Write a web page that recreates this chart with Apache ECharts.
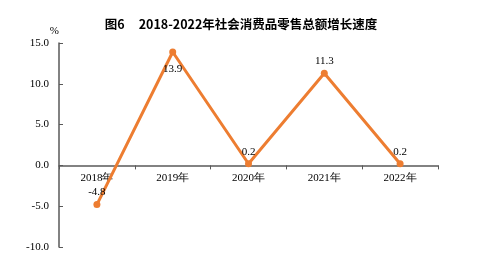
<!DOCTYPE html>
<html><head><meta charset="utf-8">
<script src="https://cdn.jsdelivr.net/npm/echarts@6/dist/echarts.min.js"></script>
<style>html,body{margin:0;padding:0;background:#fff}#c{width:482px;height:276px}</style>
</head><body><div id="c"></div>
<script>
const categories = ['2018年','2019年','2020年','2021年','2022年'];
const growth = [-4.8, 13.9, 0.2, 11.3, 0.2];
const labelPositions = ['top','bottom','top','top','top'];
const yMin = -10, yMax = 15;
const gridTop = 43, gridBottom = 29, H = 276;
const plotH = H - gridTop - gridBottom;
const zeroOffset = -plotH * (0 - yMin) / (yMax - yMin);
const chart = echarts.init(document.getElementById('c'));
chart.setOption({
  animation:false,
  title:{text:'图6     2018-2022年社会消费品零售总额增长速度',left:'center',top:13,
    textStyle:{fontFamily:'Noto Sans CJK SC',fontWeight:'bold',fontSize:12.5,color:'#000'}},
  grid:{left:59,right:44,top:gridTop,bottom:gridBottom},
  xAxis:{type:'category',data:categories,position:'bottom',offset:zeroOffset,
    axisLine:{onZero:false,lineStyle:{color:'#595959',width:1.5}},
    axisTick:{show:true,length:4,lineStyle:{color:'#595959'}},
    axisLabel:{color:'#000',fontFamily:'Liberation Serif',fontSize:11,margin:7}},
  yAxis:{type:'value',min:yMin,max:yMax,interval:5,name:'%',
    nameGap:6,nameTextStyle:{color:'#000',fontFamily:'Liberation Serif',fontSize:11,align:'right'},
    splitLine:{show:false},
    axisLine:{show:true,lineStyle:{color:'#595959',width:1.5}},
    axisTick:{show:true,inside:true,length:4,lineStyle:{color:'#595959'}},
    axisLabel:{color:'#000',fontFamily:'Liberation Serif',fontSize:11,margin:10,formatter:v=>v.toFixed(1)}},
  series:[{type:'line',
    data:growth.map((v,i)=>({value:v,label:{position:labelPositions[i],distance:labelPositions[i]==='top'?3:8}})),
    symbol:'circle',symbolSize:7,
    lineStyle:{color:'#ED7D31',width:3},itemStyle:{color:'#ED7D31'},
    label:{show:true,color:'#000',fontFamily:'Liberation Serif',fontSize:11,formatter:p=>p.value.toFixed(1)}}]
});
</script></body></html>
